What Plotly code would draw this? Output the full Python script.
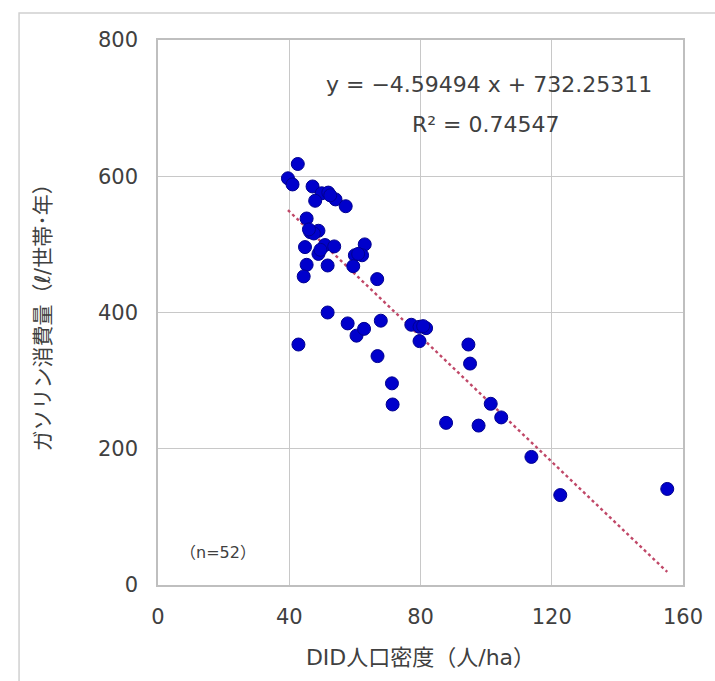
import plotly.graph_objects as go

# Data
did_density = [42.6, 39.6, 41.0, 47.1, 49.9, 51.9, 47.9, 54.1, 57.2, 45.3,
               46.4, 48.9, 44.8, 50.9, 53.7, 48.9, 63.0, 60.0, 62.2, 59.5,
               45.3, 51.7, 44.4, 66.8, 51.7, 57.8, 60.5, 62.8, 67.9, 42.8,
               66.9, 71.3, 71.5, 77.2, 79.7, 81.7, 79.7, 94.6, 95.1, 101.4,
               104.6, 87.8, 97.7, 113.8, 122.6, 155.2,
               47.5, 80.8, 49.5, 52.5, 61.0, 46.0]
gasoline = [618, 597, 588, 585, 575, 576, 564, 566, 556, 538,
            518, 520, 496, 499, 497, 486, 500, 484, 484, 468,
            470, 469, 453, 449, 400, 384, 366, 376, 388, 353,
            336, 296, 265, 382, 379, 377, 358, 353, 325, 266,
            246, 238, 234, 188, 132, 141,
            516, 380, 492, 572, 486, 522]

slope = -4.59494
intercept = 732.25311
r2 = 0.74547

x_ticks = [0, 40, 80, 120, 160]
y_ticks = [0, 200, 400, 600, 800]

W, H = 715, 681
L, R, T, B = 158, 28, 40, 96
pw, ph = W - L - R, H - T - B

x0, x1 = min(did_density), max(did_density)
trend_x = [x0, x1]
trend_y = [slope * v + intercept for v in trend_x]

font_family = "DejaVu Sans, Noto Sans CJK JP"
txt = "#404040"


def px(x):
    return (x - L) / pw


def py(y):
    return 1 - (y - T) / ph


fig = go.Figure()
fig.add_trace(go.Scatter(
    x=trend_x, y=trend_y, mode="lines",
    line=dict(color="#C04868", width=2.4, dash="dot"),
    hoverinfo="skip", showlegend=False))
fig.add_trace(go.Scatter(
    x=did_density, y=gasoline, mode="markers",
    marker=dict(size=13, color="#0000CC", line=dict(color="#00008F", width=1)),
    showlegend=False))

fig.add_annotation(xref="paper", yref="paper", x=px(492), y=py(84),
                   xanchor="center", yanchor="middle",
                   text="y = −4.59494 x + 732.25311", showarrow=False,
                   font=dict(size=22, color=txt, family=font_family))
fig.add_annotation(xref="paper", yref="paper", x=px(488), y=py(124),
                   xanchor="center", yanchor="middle",
                   text=f"R² = {r2}", showarrow=False,
                   font=dict(size=22, color=txt, family=font_family))
fig.add_annotation(xref="paper", yref="paper", x=px(218), y=py(552),
                   xanchor="center", yanchor="middle",
                   text="（n=52）", showarrow=False,
                   font=dict(size=16, color=txt, family=font_family))

# outer chart frame
fig.add_shape(type="rect", xref="paper", yref="paper", layer="below",
              x0=px(18), x1=px(730), y0=py(700), y1=py(13),
              line=dict(color="#D0D0D0", width=1.5))

fig.update_layout(
    width=W, height=H,
    margin=dict(l=L, r=R, t=T, b=B),
    paper_bgcolor="white", plot_bgcolor="white",
    font=dict(family=font_family, size=21, color=txt),
    xaxis=dict(range=[0, 160], tickvals=x_ticks, showgrid=True,
               gridcolor="#C8C8C8", gridwidth=1, zeroline=False,
               showline=True, linecolor="#BFBFBF", linewidth=1.5, mirror=True,
               ticks="", ticklabelstandoff=12,
               title=dict(text="DID人口密度（人/ha）", standoff=22,
                          font=dict(size=22, color=txt))),
    yaxis=dict(range=[0, 800], tickvals=y_ticks, showgrid=True,
               gridcolor="#C8C8C8", gridwidth=1, zeroline=False,
               showline=True, linecolor="#BFBFBF", linewidth=1.5, mirror=True,
               ticks="", ticklabelstandoff=14,
               title=dict(text="ガソリン消費量（ℓ/世帯･年）", standoff=42,
                          font=dict(size=21, color=txt))),
)

fig.write_html("out.html")
